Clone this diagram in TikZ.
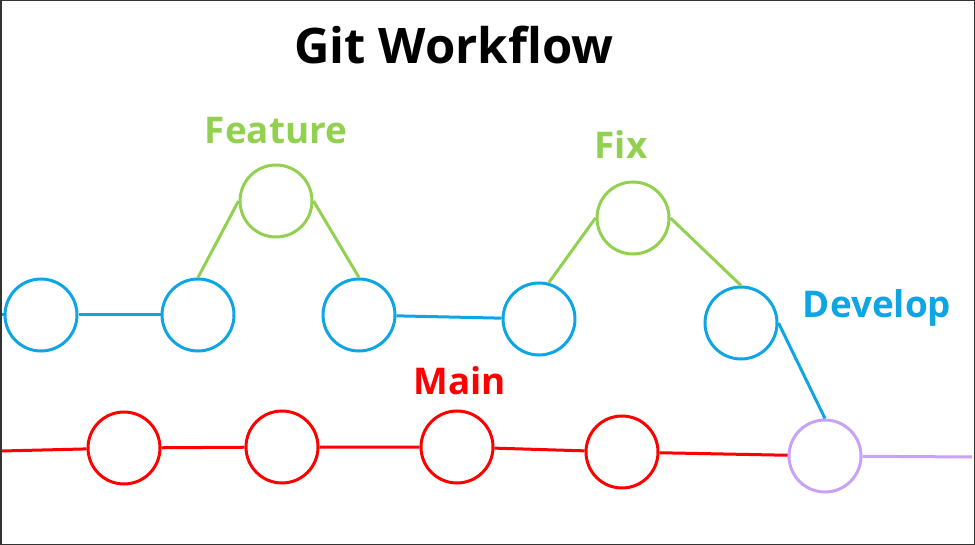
\documentclass[tikz,border=0pt]{standalone}
\usepackage{fontspec}
\setmainfont{Open Sans}
\usepackage{tikz}
\usetikzlibrary{positioning}
\definecolor{devblue}{RGB}{14, 165, 228}
\definecolor{featgreen}{RGB}{146, 208, 80}
\definecolor{mainred}{RGB}{255, 0, 0}
\definecolor{mergepurple}{RGB}{200, 162, 245}
\definecolor{framegray}{RGB}{51, 51, 51}

\tikzset{
  commit/.style={circle, draw=#1, line width=3pt, minimum size=72pt, inner sep=0pt},
  branch/.style={line width=3pt, draw=#1},
  branchlabel/.style={font=\bfseries\fontsize{36.8}{42}\selectfont, text=#1}
}

\begin{document}
\begin{tikzpicture}[x=1pt, y=-1pt]
  \useasboundingbox (0,0) rectangle (975,545);
  \draw[framegray, line width=1.5pt] (0.75,0.75) rectangle (974.25,544.25);

  % title and labels
  \node (title) at (454,45) {\bfseries\fontsize{49}{56}\selectfont Git Workflow};
  \node[branchlabel=featgreen] (lfeature) at (276,131) {Feature};
  \node[branchlabel=featgreen] (lfix) at (621,145) {Fix};
  \node[branchlabel=devblue] (ldevelop) at (877,308) {Develop};
  \node[branchlabel=mainred] (lmain) at (460,381) {Main};

  % develop
  \node[commit=devblue] (d1) at (41,315) {};
  \node[commit=devblue] (d2) at (198,315) {};
  \node[commit=devblue] (d3) at (359,315) {};
  \node[commit=devblue] (d4) at (539,319) {};
  \node[commit=devblue] (d5) at (741,323) {};

  % feature / fix
  \node[commit=featgreen] (f1) at (276,201) {};
  \node[commit=featgreen] (x1) at (633,218) {};

  % main
  \node[commit=mainred] (m1) at (124,448) {};
  \node[commit=mainred] (m2) at (282,447) {};
  \node[commit=mainred] (m3) at (457,447) {};
  \node[commit=mainred] (m4) at (622,452) {};
  \node[commit=mergepurple] (merge) at (825,456) {};

  \coordinate (dstart) at (1.5,315);
  \coordinate (mstart) at (1.5,451);
  \coordinate (mend) at (972,457);

  \draw[branch=devblue] (dstart) -- (d1) -- (d2);
  \draw[branch=devblue] (d3) -- (d4);
  \draw[branch=devblue] (d5.east) -- (merge.north);
  \draw[branch=featgreen] (d2.north) -- (f1.west);
  \draw[branch=featgreen] (f1.east) -- (d3.north);
  \draw[branch=featgreen] (d4.75) -- (x1.west);
  \draw[branch=featgreen] (x1.east) -- (d5.north);
  \draw[branch=mainred] (mstart) -- (m1) -- (m2) -- (m3) -- (m4) -- (merge);
  \draw[branch=mergepurple] (merge) -- (mend);
\end{tikzpicture}
\end{document}
